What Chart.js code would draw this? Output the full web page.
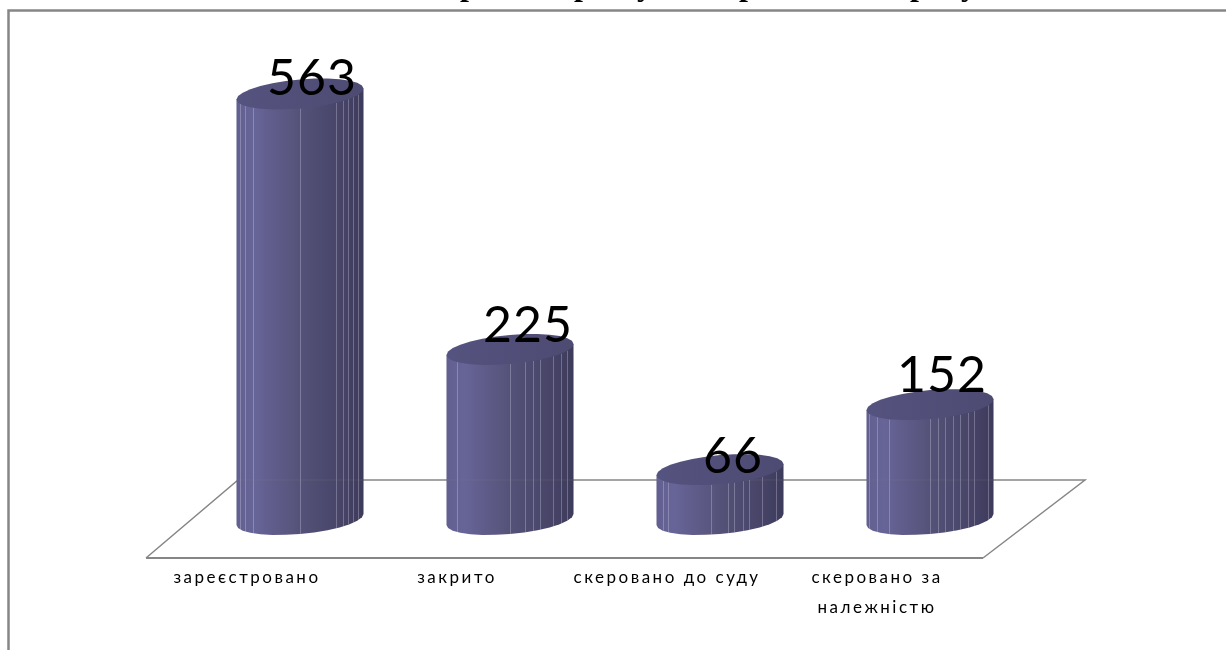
<!DOCTYPE html>
<html lang="uk">
<head>
<meta charset="utf-8">
<title>Діаграма</title>
<style>
    html, body { margin: 0; padding: 0; background: #fff; overflow: hidden; }
    canvas { display: block; }
</style>
<script src="https://cdn.jsdelivr.net/npm/chart.js@4"></script>
</head>
<body>
<canvas id="grafico" width="1226" height="650"></canvas>
<script>
const categorie = ['зареєстровано', 'закрито', 'скеровано до суду', ['скеровано за', 'належністю']];
const valori = [563, 225, 66, 152];

// the reference title is cut by the page edge: only these tails are left
const titoloLettere = ['р', 'р', 'у', 'р', 'р', 'у'];
const titoloX = [469, 583, 645, 748, 919, 969];

// value labels sit a bit off the top of each cylinder in the reference
const etichetteDx = [12, 18, 13, 12];
const etichetteDy = [1, -7, 3, -13];
// thin light facets of each cylinder, as a fraction of its width
const lamelle = [
    [0.03, 0.07, 0.13, 0.5, 0.78, 0.84, 0.88, 0.92, 0.96],
    [0.085, 0.5, 0.62, 0.68, 0.735, 0.84, 0.9, 0.95],
    [0.05, 0.09, 0.43, 0.56, 0.61, 0.68, 0.73, 0.83, 0.94],
    [0.02, 0.08, 0.18, 0.5, 0.56, 0.62, 0.68, 0.74, 0.8, 0.85, 0.96]
];

const GRIGIO = '#868686';
const ELLISSE_B = 14.5;      // half height of the cap
const INCLINA = 5.5;         // left side of the cap hangs lower than the right
const PASSI = 14;            // few steps, the reference outline is faceted
const LARGHEZZA = 1.21;      // cylinder is wider than the flat bar under it
const SPAZIO_TESTO = '2.5px';

function bordoEllisse(cx, cy, w, t) {
    return [cx + (w / 2) * Math.cos(t), cy + ELLISSE_B * Math.sin(t) + INCLINA * Math.cos(t) * -1];
}

function sfumatura(ctx, x0, x1) {
    const g = ctx.createLinearGradient(x0, 0, x1, 0);
    g.addColorStop(0, '#625f90');
    g.addColorStop(0.14, '#676498');
    g.addColorStop(0.5, '#555279');
    g.addColorStop(0.82, '#474468');
    g.addColorStop(1, '#3d3b5c');
    return g;
}

const pavimento = {
    id: 'pavimento',
    beforeDraw(chart) {
        const ctx = chart.ctx;
        const a = chart.chartArea;
        ctx.letterSpacing = SPAZIO_TESTO;

        // frame of the chart, open on the right and at the bottom
        ctx.save();
        ctx.strokeStyle = GRIGIO;
        ctx.lineWidth = 2.5;
        ctx.beginPath();
        ctx.moveTo(8.5, chart.height);
        ctx.lineTo(8.5, 10.5);
        ctx.lineTo(chart.width, 10.5);
        ctx.stroke();

        // floor of the 3d box
        const dietro = a.bottom - 39.5;
        const davanti = a.bottom + 38.5;
        ctx.lineWidth = 1.5;
        ctx.beginPath();
        ctx.moveTo(a.left - 49, davanti);
        ctx.lineTo(a.left + 43, dietro);
        ctx.lineTo(a.right + 50, dietro);
        ctx.lineTo(a.right - 52, davanti);
        ctx.stroke();
        ctx.lineWidth = 2;
        ctx.beginPath();
        ctx.moveTo(a.left - 49, davanti);
        ctx.lineTo(a.right - 52, davanti);
        ctx.stroke();

        // title tails
        ctx.fillStyle = '#000';
        ctx.font = 'bold 32px "Liberation Serif"';
        ctx.textAlign = 'center';
        ctx.textBaseline = 'alphabetic';
        ctx.letterSpacing = '0px';
        titoloLettere.forEach((l, i) => ctx.fillText(l, titoloX[i], -5));
        ctx.restore();
    }
};

const cilindri = {
    id: 'cilindri',
    afterDatasetsDraw(chart) {
        const ctx = chart.ctx;
        const a = chart.chartArea;
        const barre = chart.getDatasetMeta(0).data;
        ctx.save();
        barre.forEach((b, i) => {
            const w = b.width * LARGHEZZA;
            const sx = b.x - w / 2;
            const dx = b.x + w / 2;

            // body: left edge, faceted bottom curve, right edge
            ctx.beginPath();
            ctx.moveTo(sx, b.y + INCLINA);
            for (let k = 0; k <= PASSI; k++) {
                const p = bordoEllisse(b.x, b.base, w, Math.PI - (Math.PI * k) / PASSI);
                ctx.lineTo(p[0], p[1]);
            }
            ctx.lineTo(dx, b.y - INCLINA);
            ctx.closePath();
            ctx.fillStyle = sfumatura(ctx, sx, dx);
            ctx.fill();

            // thin light facets
            ctx.strokeStyle = 'rgba(222, 222, 240, 0.3)';
            ctx.lineWidth = 1;
            lamelle[i].forEach(u => {
                const t = Math.acos(2 * u - 1);
                const x = Math.round(sx + u * w) + 0.5;
                const alto = bordoEllisse(b.x, b.y, w, t)[1];
                const basso = bordoEllisse(b.x, b.base, w, t)[1];
                ctx.beginPath();
                ctx.moveTo(x, alto);
                ctx.lineTo(x, basso);
                ctx.stroke();
            });

            // back floor line shows faintly through the body
            ctx.strokeStyle = 'rgba(134, 134, 134, 0.2)';
            ctx.beginPath();
            ctx.moveTo(sx, a.bottom - 39.5);
            ctx.lineTo(dx, a.bottom - 39.5);
            ctx.stroke();

            // cap
            ctx.beginPath();
            for (let k = 0; k < PASSI * 2; k++) {
                const p = bordoEllisse(b.x, b.y, w, (Math.PI * k) / PASSI);
                if (k === 0) ctx.moveTo(p[0], p[1]);
                else ctx.lineTo(p[0], p[1]);
            }
            ctx.closePath();
            const g = ctx.createLinearGradient(sx, 0, dx, 0);
            g.addColorStop(0, '#55537f');
            g.addColorStop(1, '#4d4b72');
            ctx.fillStyle = g;
            ctx.fill();
        });

        // value labels on top of everything
        ctx.fillStyle = '#000';
        ctx.font = '50px Lato';
        ctx.letterSpacing = '1px';
        ctx.textAlign = 'center';
        ctx.textBaseline = 'alphabetic';
        barre.forEach((b, i) => {
            ctx.fillText(String(valori[i]), b.x + etichetteDx[i], b.y + etichetteDy[i]);
        });
        ctx.restore();
        ctx.letterSpacing = SPAZIO_TESTO;
    }
};

const contesto = document.getElementById('grafico').getContext('2d');

new Chart(contesto, {
    type: 'bar',
    data: {
        labels: categorie,
        datasets: [{
            data: valori,
            backgroundColor: '#555279',
            borderWidth: 0,
            barPercentage: 0.5,
            categoryPercentage: 1
        }]
    },
    options: {
        responsive: false,
        animation: false,
        layout: { padding: { left: 195, right: 191, top: 66, bottom: 0 } },
        plugins: {
            legend: { display: false },
            title: { display: false },
            tooltip: { enabled: false }
        },
        scales: {
            x: {
                grid: { display: false, drawTicks: false },
                border: { display: false },
                afterFit: scale => { scale.height = 130.5; },
                ticks: {
                    autoSkip: false,
                    maxRotation: 0,
                    minRotation: 0,
                    labelOffset: -53,
                    padding: 43,
                    color: '#000',
                    font: { family: 'Lato', size: 17, lineHeight: 1.76 }
                }
            },
            y: {
                display: false,
                min: 0,
                max: 600
            }
        }
    },
    plugins: [pavimento, cilindri]
});
</script>
</body>
</html>
